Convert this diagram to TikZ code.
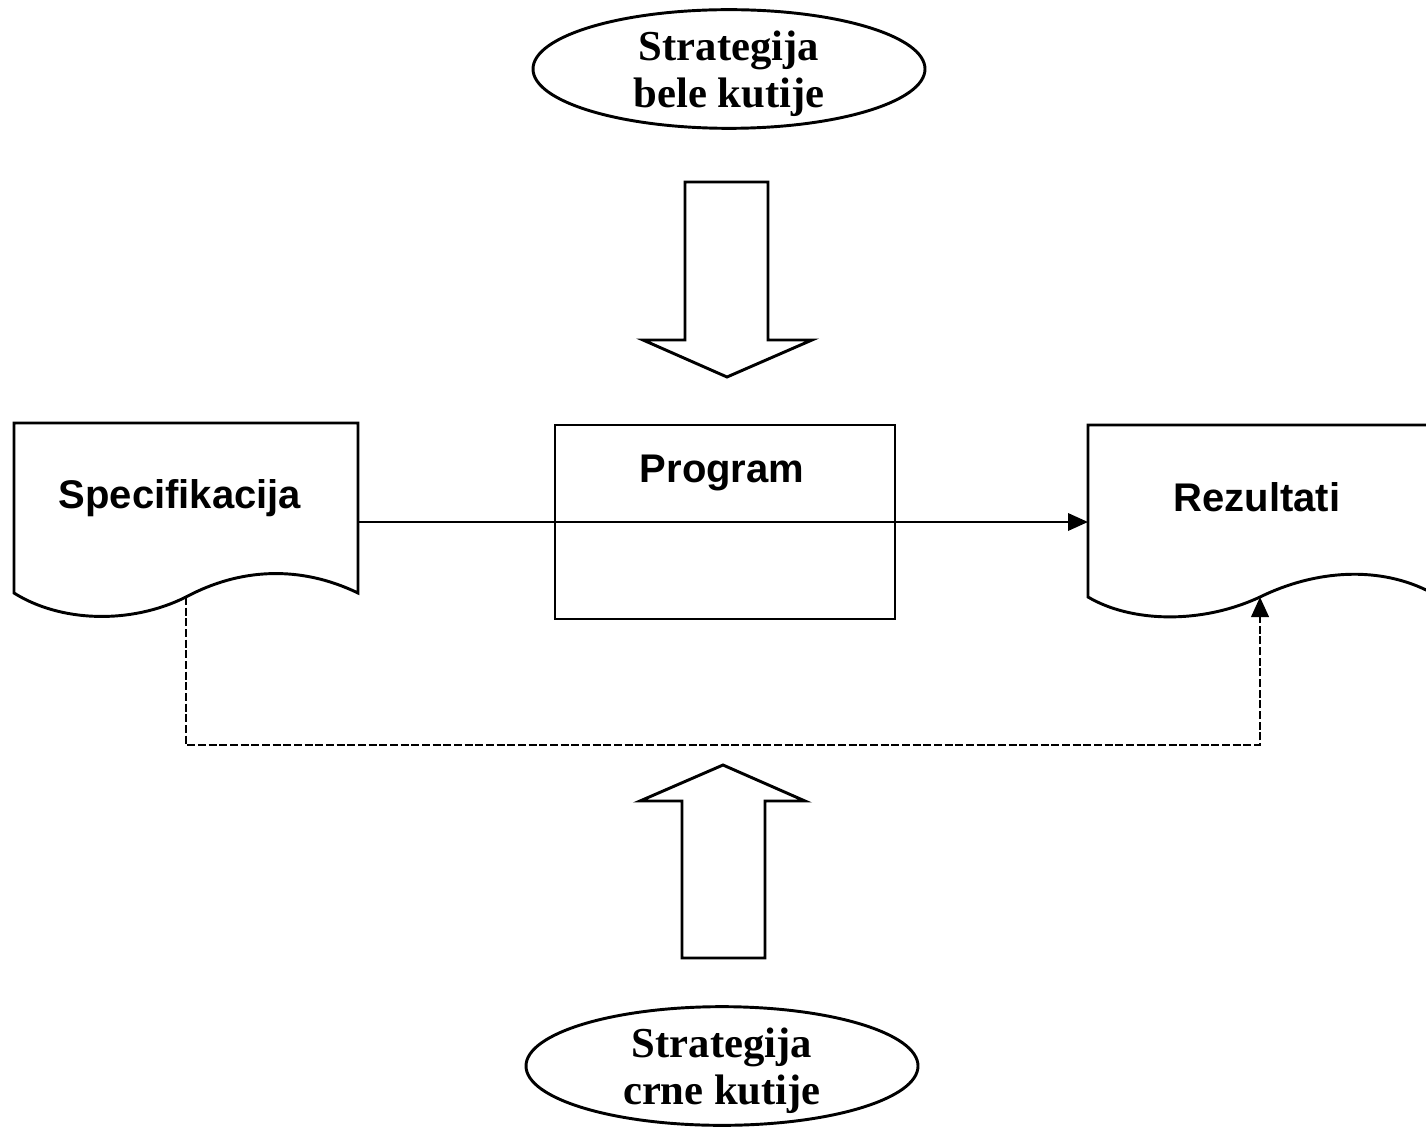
\documentclass[tikz,border=0pt]{standalone}
\usepackage{fontspec}
\setmainfont{Liberation Serif}
\setsansfont{Liberation Sans}
\usetikzlibrary{shapes.geometric,arrows.meta}

\tikzset{every picture/.style={line width=2.2pt}}
\tikzset{
  strat/.style={draw,ellipse,minimum width=294pt,minimum height=89pt,inner sep=-4pt,align=center,
    text depth=0pt,font=\fontsize{32}{35}\selectfont\bfseries},
  doclbl/.style={inner sep=0.75pt,font=\sffamily\bfseries\fontsize{30}{36}\selectfont},
  progbox/.style={draw,rectangle,minimum width=255pt,minimum height=145.5pt,inner sep=0pt},
  tipfill/.style={-{Triangle[length=15pt,width=13pt]}},
  feedback/.style={dash pattern=on 6pt off 2pt},
}

\begin{document}
\begin{tikzpicture}[x=0.75pt,y=0.75pt,yscale=-1,xscale=1]
\useasboundingbox (0,0) rectangle (1426,1130);
\clip (0,0) rectangle (1426,1130);

%Ellipse: white box strategy
\node[strat] (bela) at (729,69) {Strategija\\bele kutije};
%Ellipse: black box strategy
\node[strat] (crna) at (722,1066) {Strategija\\crne kutije};

%Shape: Down Arrow
\draw (685,182) -- (768,182) -- (768,340) -- (812,340) -- (727,377) -- (643,340) -- (685,340) -- cycle ;
%Shape: Up Arrow
\draw (682,958) -- (765,958) -- (765,801) -- (805,801) -- (723,765) -- (640,801) -- (682,801) -- cycle ;

%Flowchart: Document (specification)
\draw (14,593) -- (14,423) -- (358,423) -- (358,593) .. controls (300,565) and (240,568) .. (186,597) .. controls (130,625) and (60,622) .. (14,593) -- cycle ;
%Flowchart: Document (results)
\draw (1432,593) -- (1432,425) -- (1088,425) -- (1088,597) .. controls (1130,622) and (1200,625) .. (1260,597) .. controls (1315,570) and (1380,565) .. (1432,593) ;

%Flowchart: Process
\node[progbox] (prog) at (725,522) {};

\coordinate (specR) at (358,522);
\coordinate (rezL) at (1088,522);
\coordinate (specW) at (186,597);
\coordinate (rezW) at (1260,597);

%Straight Lines: through the program
\draw[tipfill,line width=1.8pt] (specR) -- (rezL) ;
%Dashed Lines: comparison
\draw[tipfill,feedback] (specW) -- ++(0,148) -| (rezW) ;

% Text Node
\node[doclbl] (spec) at (180,498) {Specifikacija};
% Text Node
\node[doclbl] (progt) at (722,473) {Program};
% Text Node
\node[doclbl] (rez) at (1257,497) {Rezultati};

\end{tikzpicture}
\end{document}
